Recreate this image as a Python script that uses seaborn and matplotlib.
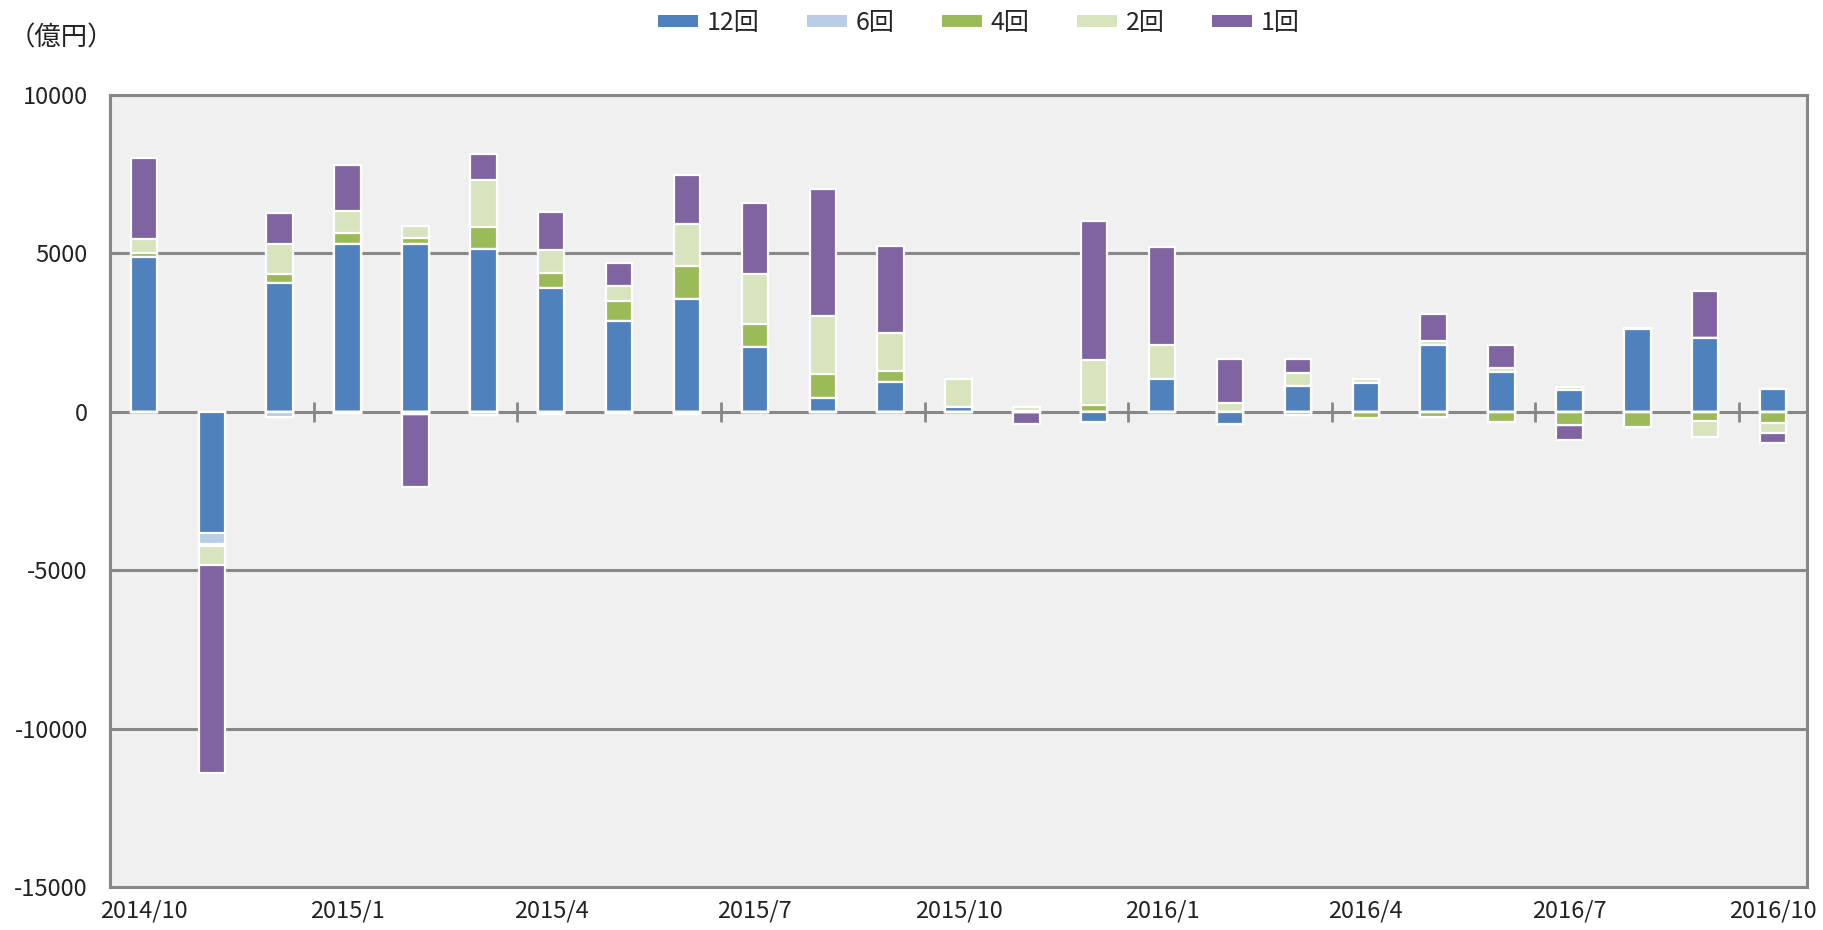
import numpy as np
import pandas as pd
import matplotlib
matplotlib.use('Agg')
import matplotlib.pyplot as plt
from matplotlib.patches import Patch
import seaborn as sns

# 月
months = ['2014/10', '2014/11', '2014/12', '2015/1', '2015/2', '2015/3', '2015/4',
          '2015/5', '2015/6', '2015/7', '2015/8', '2015/9', '2015/10', '2015/11',
          '2015/12', '2016/1', '2016/2', '2016/3', '2016/4', '2016/5', '2016/6',
          '2016/7', '2016/8', '2016/9', '2016/10']

# 決算回数別の資金流出入（億円）
v12 = [4900, -3840, 4050, 5300, 5300, 5150, 3900, 2860, 3550, 2060, 430, 945, 147,
       20, -320, 1050, -380, 800, 920, 2120, 1270, 680, 2620, 2320, 735]
v6 = [-20, -320, -150, -30, -60, -100, -60, -40, -80, 0, 0, 0, 0,
      0, 0, 0, 0, 0, 0, 0, 0, 0, 0, 0, 0]
v4 = [100, -90, 300, 350, 200, 690, 480, 640, 1060, 700, 750, 330, 0,
      0, 230, 0, 0, -100, -180, -150, -320, -420, -470, -300, -365]
v2 = [450, -600, 950, 700, 380, 1470, 735, 470, 1310, 1600, 1840, 1200, 880,
      130, 1390, 1050, 290, 420, 120, 120, 100, 100, 40, -480, -290]
v1 = [2560, -6540, 990, 1440, -2300, 830, 1200, 720, 1540, 2230, 4000, 2750, 0,
      -400, 4410, 3100, 1380, 460, 0, 840, 740, -470, 0, 1480, -320]

series_names = ['12回', '6回', '4回', '2回', '1回']
series_values = [v12, v6, v4, v2, v1]
colors = ['#4F81BD', '#B9CDE5', '#9BBB59', '#D7E4BD', '#8064A2']

y_ticks = [-15000, -10000, -5000, 0, 5000, 10000]
x_label_step = 3

sns.set_style('white')
plt.rcParams['font.family'] = ['Noto Sans CJK JP', 'DejaVu Sans']

fig = plt.figure(figsize=(18.23, 9.30), dpi=100)
ax = fig.add_axes([110 / 1823, 1 - 887 / 930, (1807 - 110) / 1823, (887 - 95) / 930])
ax.set_facecolor('#F0F0F0')

# 正と負を別々に積み上げる（Excel と同じ）
vals = np.array(series_values, dtype=float)
pos_cum = np.cumsum(np.clip(vals, 0, None), axis=0)
neg_cum = np.cumsum(np.clip(vals, None, 0), axis=0)

for cum in (pos_cum, neg_cum):
    for k in range(len(series_names) - 1, -1, -1):
        df = pd.DataFrame({'month': months, 'value': cum[k]})
        sns.barplot(data=df, x='month', y='value', color=colors[k], saturation=1,
                    width=0.39, edgecolor='white', linewidth=1.6, errorbar=None,
                    ax=ax, zorder=3)

ax.set_xlim(-0.5, len(months) - 0.5)
ax.set_ylim(y_ticks[0], y_ticks[-1])
ax.set_yticks(y_ticks)
ax.set_yticklabels([str(t) for t in y_ticks], fontsize=17, color='#222222')
ax.yaxis.grid(True, color='#878787', linewidth=2.2, zorder=1)
ax.set_axisbelow(True)

label_pos = list(range(0, len(months), x_label_step))
ax.set_xticks(label_pos)
ax.set_xticklabels([months[i] for i in label_pos], fontsize=17, color='#222222')
ax.tick_params(axis='x', length=0, pad=9)
ax.tick_params(axis='y', length=0, pad=16)
ax.set_xlabel('')
ax.set_ylabel('')

for side in ['left', 'right', 'top', 'bottom']:
    ax.spines[side].set_color('#878787')
    ax.spines[side].set_linewidth(2.2)

# ゼロ線上の目盛り（3か月ごとの境目）
zero_frac = (0 - y_ticks[0]) / (y_ticks[-1] - y_ticks[0])
sec = ax.secondary_xaxis(zero_frac)
sec.set_xticks([i - 0.5 for i in label_pos[1:]])
sec.set_xticklabels([])
sec.tick_params(axis='x', direction='inout', length=15, width=2, color='#878787')
sec.spines['bottom'].set_visible(False)
sec.spines['top'].set_visible(False)

handles = [Patch(facecolor=c, edgecolor='none') for c in colors]
fig.legend(handles, series_names, loc='center', bbox_to_anchor=(0.537, 1 - 23 / 930),
           ncol=5, frameon=False, fontsize=18, handlelength=1.6, handleheight=0.33,
           handletextpad=0.35, columnspacing=1.9)

fig.text(9 / 1823, 1 - 38 / 930, '（億円）', fontsize=19, color='#222222', va='center', ha='left')

fig.savefig('out.png', dpi=100, facecolor='white')
